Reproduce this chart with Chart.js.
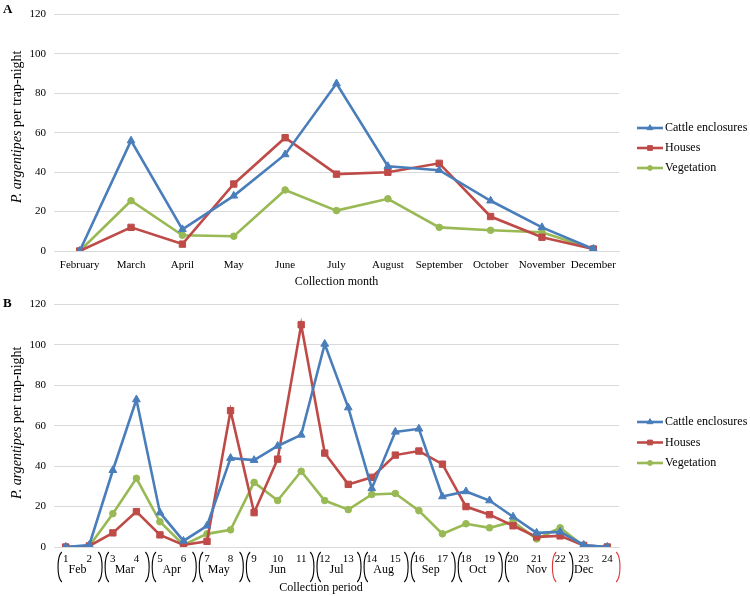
<!DOCTYPE html>
<html>
<head>
<meta charset="utf-8">
<script src="https://cdn.jsdelivr.net/npm/chart.js@4.4.0/dist/chart.umd.min.js"></script>
<style>
  body { margin: 0; background: #fff; }
  canvas { display: block; }
</style>
</head>
<body>
<canvas id="chartA" width="750" height="290"></canvas>
<canvas id="chartB" width="750" height="306"></canvas>
<script>
const FONT = "'Liberation Serif', 'Times New Roman', serif";
Chart.defaults.font.family = FONT;
Chart.defaults.color = '#000';

// Panel A - per collection month
const months = ['February', 'March', 'April', 'May', 'June', 'July', 'August', 'September', 'October', 'November', 'December'];
const cattleByMonth = [0, 56, 11, 28, 49, 85, 43, 41, 25.5, 12, 1];
const housesByMonth = [0, 12, 3.5, 34, 57.5, 39, 40, 44.5, 17.5, 7, 1];
const vegetationByMonth = [0, 25.5, 8, 7.5, 31, 20.5, 26.5, 12, 10.5, 9.5, 1];

// Panel B - per collection period
const periods = ['1', '2', '3', '4', '5', '6', '7', '8', '9', '10', '11', '12',
  '13', '14', '15', '16', '17', '18', '19', '20', '21', '22', '23', '24'];
const cattleByPeriod = [0, 1, 38, 73, 17, 3, 10.5, 44, 43, 50, 55.5, 100.5,
  69, 29, 57, 58.5, 25, 27.5, 23, 15, 7, 7.5, 1, 0];
const housesByPeriod = [0, 0.5, 7, 17.5, 6, 1, 2.8, 67.5, 17, 43.5, 110, 46.5,
  31, 34.5, 45.5, 47.5, 41, 20, 16, 10.5, 5, 5.5, 0.8, 0];
const vegetationByPeriod = [0, 0.5, 16.5, 34, 12.5, 1, 6.5, 8.5, 32, 23, 37.5, 23,
  18.5, 26, 26.5, 18, 6.5, 11.5, 9.5, 12.5, 4, 9.5, 0.5, 0];
const periodMonths = ['Feb', 'Mar', 'Apr', 'May', 'Jun', 'Jul', 'Aug', 'Sep', 'Oct', 'Nov', 'Dec'];
const periodGroupStart = [1, 3, 5, 7, 9, 12, 14, 16, 18, 20, 22];
const periodGroupEnd = [2, 4, 6, 8, 11, 13, 15, 17, 19, 22, 24];

const seriesNames = ['Cattle enclosures', 'Houses', 'Vegetation'];
const seriesColors = ['#4a7ebb', '#be4b48', '#98b954'];
const seriesMarkers = ['triangle', 'rect', 'circle'];
const markerSizes = [4.5, 4.5, 3.3];

function buildDatasets(values) {
  return values.map((data, i) => ({
    label: seriesNames[i],
    data: data,
    borderColor: seriesColors[i],
    backgroundColor: seriesColors[i],
    borderWidth: 2.6,
    pointStyle: seriesMarkers[i],
    pointRadius: markerSizes[i],
    pointBorderWidth: 1,
    tension: 0
  }));
}

// legend drawn to the right, rows at fixed spacing
const sideLegend = {
  id: 'sideLegend',
  afterDraw(chart, args, opts) {
    const ctx = chart.ctx;
    ctx.save();
    chart.data.datasets.forEach((ds, i) => {
      const y = opts.top + i * opts.gap;
      ctx.strokeStyle = ds.borderColor;
      ctx.lineWidth = 2.6;
      ctx.beginPath();
      ctx.moveTo(637, y);
      ctx.lineTo(663, y);
      ctx.stroke();
      ctx.fillStyle = ds.backgroundColor;
      ctx.lineWidth = 1;
      Chart.helpers.drawPoint(ctx, {pointStyle: ds.pointStyle, radius: ds.pointRadius * 0.75, borderWidth: 1, rotation: 0}, 650, y);
      ctx.fillStyle = '#000';
      ctx.font = '12px ' + FONT;
      ctx.textAlign = 'left';
      ctx.textBaseline = 'middle';
      ctx.fillText(ds.label, 665, y);
    });
    ctx.restore();
  }
};

// y title with the italic species name, plus panel letter
const yTitle = {
  id: 'yTitle',
  afterDraw(chart, args, opts) {
    const ctx = chart.ctx;
    const area = chart.chartArea;
    ctx.save();
    ctx.fillStyle = '#000';
    ctx.font = 'bold 13px ' + FONT;
    ctx.textAlign = 'left';
    ctx.textBaseline = 'middle';
    ctx.fillText(opts.letter, 3, opts.letterY);

    ctx.translate(17, (area.top + area.bottom) / 2 + opts.dy);
    ctx.rotate(-Math.PI / 2);
    const italic = 'italic 14px ' + FONT;
    const normal = '14px ' + FONT;
    ctx.font = italic;
    const w1 = ctx.measureText('P. argentipes').width;
    ctx.font = normal;
    const w2 = ctx.measureText(' per trap-night').width;
    const x0 = -(w1 + w2) / 2;
    ctx.font = italic;
    ctx.fillText('P. argentipes', x0, 0);
    ctx.font = normal;
    ctx.fillText(' per trap-night', x0 + w1, 0);
    ctx.restore();
  }
};

function bracket(ctx, x, y1, y2, dir, color) {
  // dir 1 = "(" , -1 = ")"
  ctx.strokeStyle = color;
  ctx.lineWidth = 1.1;
  ctx.beginPath();
  ctx.moveTo(x + 3 * dir, y1);
  ctx.bezierCurveTo(x - 2 * dir, y1 + 5, x - 2 * dir, y2 - 5, x + 3 * dir, y2);
  ctx.stroke();
}

// period numbers grouped by month under panel B
const periodAxis = {
  id: 'periodAxis',
  afterDraw(chart) {
    const ctx = chart.ctx;
    const xs = chart.scales.x;
    const base = chart.chartArea.bottom;
    ctx.save();
    ctx.fillStyle = '#000';
    ctx.textAlign = 'center';
    ctx.textBaseline = 'middle';
    ctx.font = '11px ' + FONT;
    periods.forEach((p, i) => ctx.fillText(p, xs.getPixelForValue(i), base + 12));
    ctx.font = '12px ' + FONT;
    periodMonths.forEach((m, g) => {
      const a = xs.getPixelForValue(periodGroupStart[g] - 1);
      const b = xs.getPixelForValue(periodGroupEnd[g] - 1);
      ctx.fillText(m, (a + b) / 2, base + 23);
      const color = g === periodMonths.length - 1 ? '#d9383a' : '#000';
      bracket(ctx, a - 7, base + 5, base + 35, 1, color);
      bracket(ctx, b + 12, base + 5, base + 35, -1, color);
    });
    ctx.font = '12px ' + FONT;
    ctx.fillText('Collection period', 321, base + 41);
    ctx.restore();
  }
};

function yScale() {
  return {
    min: 0,
    max: 120,
    ticks: {stepSize: 20, font: {size: 11}, color: '#000', padding: 8},
    grid: {color: '#d9d9d9', drawTicks: false, lineWidth: 1},
    border: {display: false},
    afterFit: s => { s.width = 54; }
  };
}

new Chart(document.getElementById('chartA'), {
  type: 'line',
  data: {
    labels: months,
    datasets: buildDatasets([cattleByMonth, housesByMonth, vegetationByMonth])
  },
  options: {
    responsive: false,
    animation: false,
    layout: {padding: {top: 5, right: 131, left: 0, bottom: 0}},
    scales: {
      x: {
        offset: true,
        grid: {display: false, drawTicks: false},
        border: {color: '#d9d9d9'},
        ticks: {font: {size: 11}, color: '#000', maxRotation: 0, autoSkip: false, padding: 8},
        title: {display: true, text: 'Collection month', font: {size: 12}, color: '#000', padding: {top: 0, bottom: 1}},
        afterFit: s => { s.height = 39; }
      },
      y: yScale()
    },
    plugins: {
      legend: {display: false},
      tooltip: {enabled: false},
      sideLegend: {top: 128, gap: 20},
      yTitle: {letter: 'A', letterY: 10, dy: -6}
    }
  },
  plugins: [sideLegend, yTitle]
});

new Chart(document.getElementById('chartB'), {
  type: 'line',
  data: {
    labels: periods,
    datasets: buildDatasets([cattleByPeriod, housesByPeriod, vegetationByPeriod])
  },
  options: {
    responsive: false,
    animation: false,
    layout: {padding: {top: 10, right: 131, left: 0, bottom: 0}},
    scales: {
      x: {
        offset: true,
        grid: {display: false, drawTicks: false},
        border: {color: '#d9d9d9'},
        ticks: {display: false},
        afterFit: s => { s.height = 49; }
      },
      y: yScale()
    },
    plugins: {
      legend: {display: false},
      tooltip: {enabled: false},
      sideLegend: {top: 132, gap: 20.5},
      yTitle: {letter: 'B', letterY: 14, dy: -3}
    }
  },
  plugins: [sideLegend, yTitle, periodAxis]
});
</script>
</body>
</html>
